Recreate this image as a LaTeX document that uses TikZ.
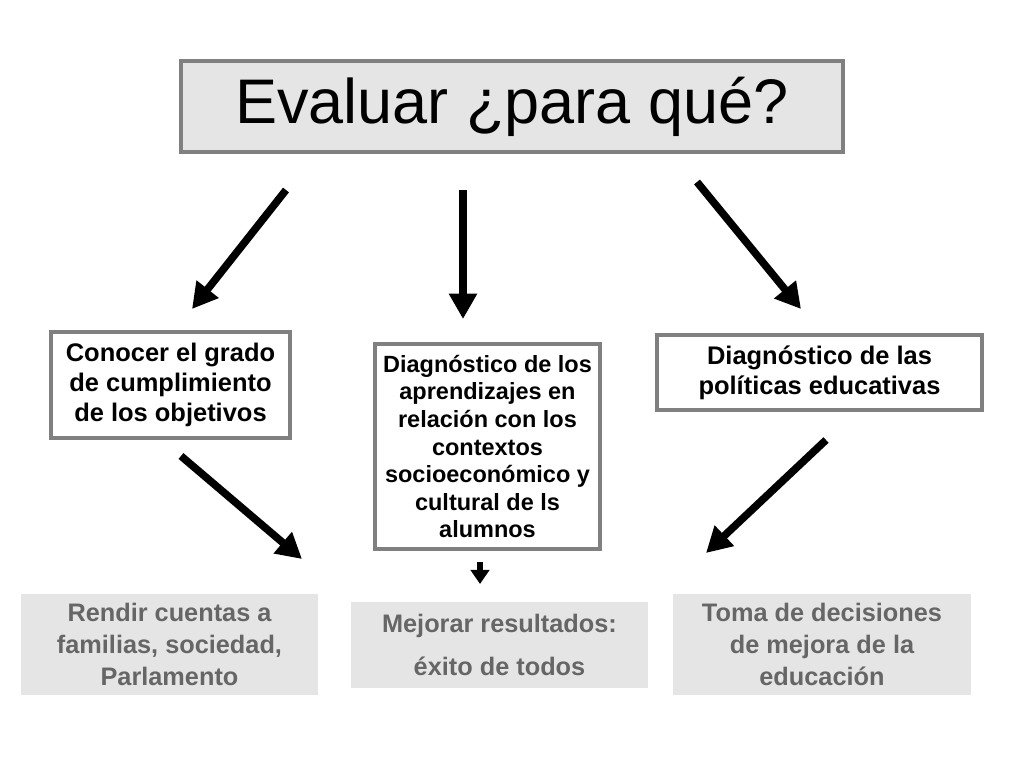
\documentclass[tikz,border=0pt]{standalone}
\usepackage{fontspec}
\setmainfont{Liberation Sans}
\usetikzlibrary{arrows.meta}
\definecolor{boxgray}{HTML}{E5E5E5}
\definecolor{linegray}{HTML}{808080}
\definecolor{textgray}{HTML}{666666}
\tikzset{
  whitebox/.style={draw=linegray,line width=2.2pt,fill=white,align=center,
    font=\bfseries\fontsize{18.1pt}{21.3pt}\selectfont},
  shadebox/.style={fill=boxgray,text=textgray,align=center,
    font=\bfseries\fontsize{18pt}{22.8pt}\selectfont},
  bigarrow/.style={line width=5.4pt,-{Triangle[length=18pt,width=19pt]}}
}
\begin{document}
\begin{tikzpicture}[x=0.025cm,y=-0.025cm]
      \useasboundingbox (0,0) rectangle (1024,768);
      \node[draw=linegray,line width=2.2pt,fill=boxgray,minimum width=662*0.025cm,
        minimum height=91*0.025cm,font=\fontsize{44.8pt}{50pt}\selectfont]
        (title) at (512,106.5) {Evaluar ¿para qué?};
      \node[whitebox,minimum width=239*0.025cm,minimum height=106*0.025cm]
        (grado) at (170.5,385) {Conocer el grado\\de cumplimiento\\de los objetivos};
      \node[whitebox,minimum width=225*0.025cm,minimum height=205*0.025cm,
        font=\bfseries\fontsize{16.7pt}{19.6pt}\selectfont]
        (aprend) at (487.5,446.5) {Diagnóstico de los\\aprendizajes en\\relación con los\\contextos\\socioeconómico y\\cultural de ls\\alumnos};
      \node[whitebox,minimum width=325*0.025cm,minimum height=75*0.025cm]
        (polit) at (819.5,372.5) {Diagnóstico de las\\políticas educativas};
      \node[shadebox,minimum width=297*0.025cm,minimum height=101*0.025cm]
        (cuentas) at (169.5,644.5) {Rendir cuentas a\\familias, sociedad,\\Parlamento};
      \node[shadebox,minimum width=297*0.025cm,minimum height=86*0.025cm]
        (mejorar) at (499.5,645) {Mejorar resultados:\\[8pt]éxito de todos};
      \node[shadebox,minimum width=298*0.025cm,minimum height=101*0.025cm]
        (decis) at (822,644.5) {Toma de decisiones\\de mejora de la\\educación};
      \draw
        (286,190) coordinate (p1)
        (192,309) coordinate (q1)
        (463,190) coordinate (p2)
        (463,319) coordinate (q2)
        (697,182) coordinate (p3)
        (801,309) coordinate (q3)
        (181,456) coordinate (p4)
        (302,559) coordinate (q4)
        (480,562) coordinate (p5)
        (480,584) coordinate (q5)
        (826,440) coordinate (p6)
        (706,553) coordinate (q6);
      \begin{scope}[bigarrow]
        \draw (p1) to (q1);
        \draw (p2) to (q2);
        \draw (p3) to (q3);
        \draw (p4) to (q4);
        \draw (p6) to (q6);
      \end{scope}
      \draw[line width=3.6pt,-{Triangle[length=10pt,width=13pt]}] (p5) to (q5);
    \end{tikzpicture}
\end{document}
